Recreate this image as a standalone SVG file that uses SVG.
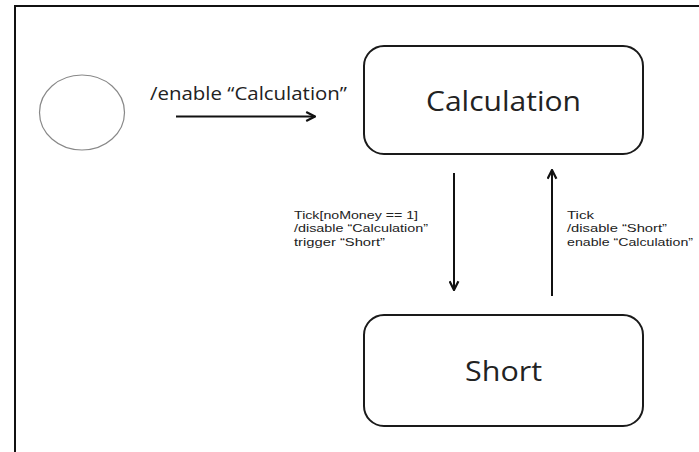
<svg xmlns="http://www.w3.org/2000/svg" width="699" height="452" viewBox="0 0 699 452">
  <style>
    .state { fill: #ffffff; stroke: #1a1a1a; stroke-width: 2; }
    .big { font-family: "Open Sans", "Noto Sans", sans-serif; font-size: 28px; fill: #222; }
    .lbl { font-family: "Liberation Sans", Arial, sans-serif; font-size: 11.5px; fill: #222; }
    .top { font-family: "Open Sans", "Noto Sans", sans-serif; font-size: 19px; fill: #222; }
    .edge { stroke: #111; stroke-width: 2; fill: none; }
  </style>
  <defs>
    <marker id="arr" viewBox="0 0 10 10" refX="9" refY="5" markerWidth="5.5" markerHeight="5.5" orient="auto" markerUnits="strokeWidth">
      <path d="M1,1 L9,5 L1,9" fill="none" stroke="#111" stroke-width="2"/>
    </marker>
  </defs>
  <rect x="0" y="0" width="699" height="452" fill="#ffffff"/>
  <path d="M15,452 L15,6 L699,6" fill="none" stroke="#111" stroke-width="2"/>

  <g id="initial">
    <ellipse cx="82" cy="112.5" rx="42.5" ry="37.5" fill="#fff" stroke="#888" stroke-width="1.2"/>
  </g>

  <g id="calculation">
    <rect class="state" x="364" y="46" width="279" height="108" rx="20" ry="20"/>
    <text class="big" x="426" y="111" textLength="155" lengthAdjust="spacingAndGlyphs">Calculation</text>
  </g>

  <g id="short">
    <rect class="state" x="364" y="315" width="279" height="111" rx="20" ry="20"/>
    <text class="big" x="465" y="380.5" textLength="77" lengthAdjust="spacingAndGlyphs">Short</text>
  </g>

  <g id="connectors">
    <line class="edge" x1="176" y1="116.5" x2="315" y2="116.5" marker-end="url(#arr)"/>
    <text class="top" x="150" y="100" textLength="197" lengthAdjust="spacingAndGlyphs">/enable “Calculation”</text>

    <line class="edge" x1="454" y1="173" x2="454" y2="290" marker-end="url(#arr)"/>
    <text class="lbl" x="294" y="218.5" textLength="124" lengthAdjust="spacingAndGlyphs">Tick[noMoney == 1]</text>
    <text class="lbl" x="294" y="232" textLength="134" lengthAdjust="spacingAndGlyphs">/disable “Calculation”</text>
    <text class="lbl" x="294" y="245.5" textLength="91" lengthAdjust="spacingAndGlyphs">trigger “Short”</text>

    <line class="edge" x1="552" y1="296" x2="552" y2="170" marker-end="url(#arr)"/>
    <text class="lbl" x="567" y="218.5" textLength="27" lengthAdjust="spacingAndGlyphs">Tick</text>
    <text class="lbl" x="567" y="232" textLength="100" lengthAdjust="spacingAndGlyphs">/disable “Short”</text>
    <text class="lbl" x="567" y="245.5" textLength="126" lengthAdjust="spacingAndGlyphs">enable “Calculation”</text>
  </g>
</svg>
